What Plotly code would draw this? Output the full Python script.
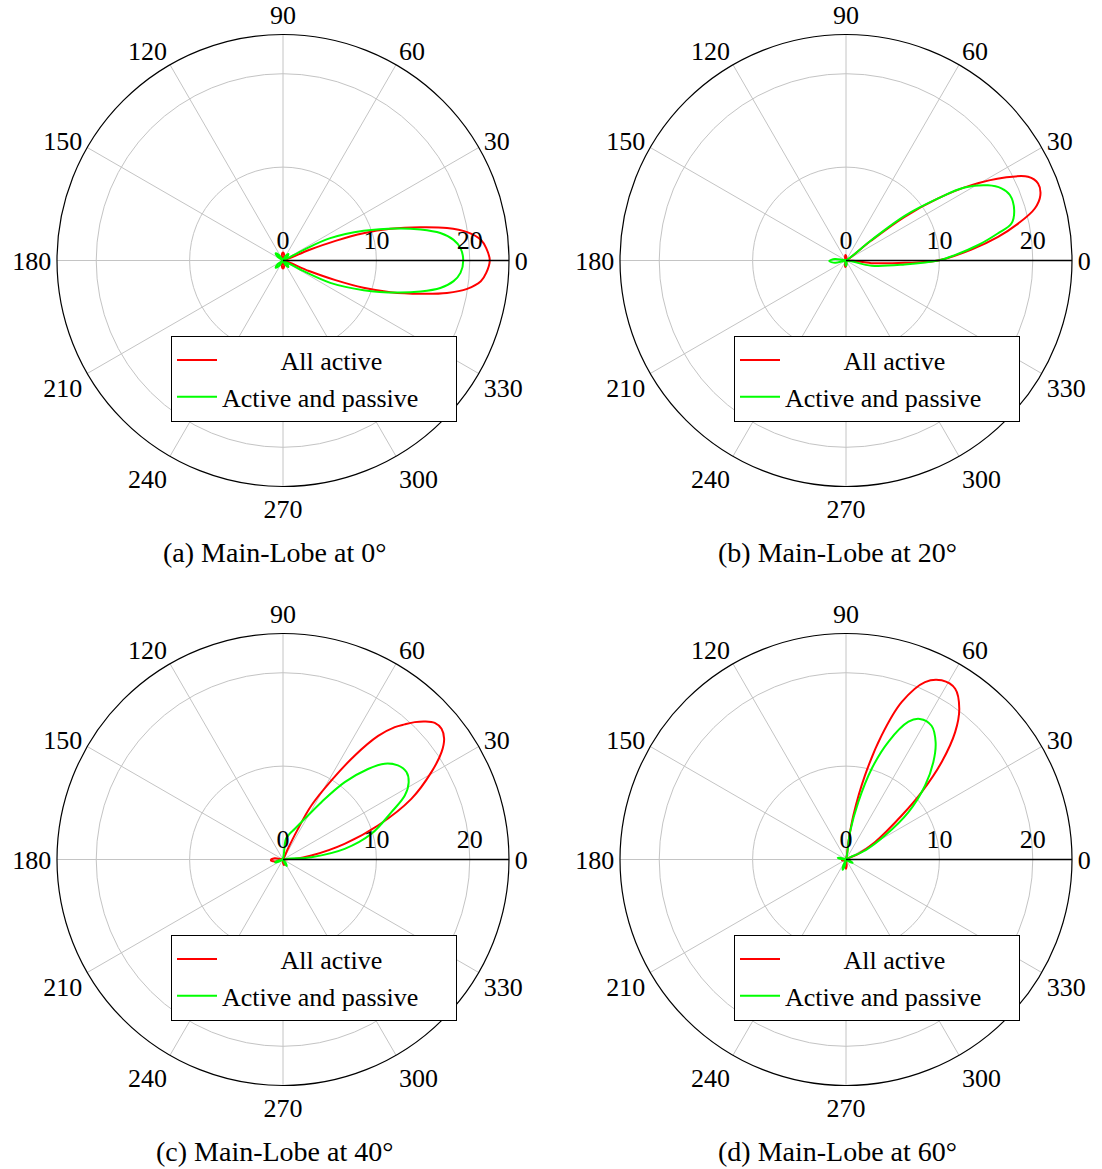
import plotly.graph_objects as go

# ---------------- data ----------------
SERIES_NAMES = ["All active", "Active and passive"]
CAPTIONS = ["(a) Main-Lobe at 0°", "(b) Main-Lobe at 20°",
            "(c) Main-Lobe at 40°", "(d) Main-Lobe at 60°"]
ANGLE_TICKS = [0, 30, 60, 90, 120, 150, 180, 210, 240, 270, 300, 330]
RADIAL_TICKS = [0, 10, 20]
RADIAL_MAX = 24.2

# Panel (a): main lobe at 0 deg
a_red_theta = [-23.5, -22, -20.5, -18.7, -16.4, -13.6, -11.2, -8.75, -6, -3.5, 0, 3.5, 6, 8.75, 11.2,
               13.6, 16.4, 18.7, 20.5, 22, 23.5, 65, 78, 90, 102, 115, 245, 258, 270, 282, 295, 336.5]
a_red_r = [0.15, 3, 6, 9.1, 12, 15.15, 17.9, 19.95, 21.3, 21.8, 22.14, 21.8, 21.3, 19.95, 17.9,
           15.15, 12, 9.1, 6, 3, 0.15, 0.15, 0.6, 0.85, 0.6, 0.15, 0.15, 0.6, 0.85, 0.6, 0.15, 0.15]
a_green_theta = [-29, -27.3, -25.3, -20.2, -15.7, -12.7, -9.9, -6.9, -4, 0, 4, 6.9, 9.9, 12.7, 15.7,
                 20.2, 25.3, 27.3, 29, 40, 50, 60, 72, 118, 125, 135, 145, 152, 208, 215, 225, 235,
                 242, 288, 300, 310, 320, 331]
a_green_r = [0.15, 2.5, 5.6, 9.2, 12.7, 15.1, 17.1, 18.4, 19.05, 19.3, 19.05, 18.4, 17.1, 15.1, 12.7,
             9.2, 5.6, 2.5, 0.15, 0.55, 0.9, 0.55, 0.15, 0.15, 0.7, 1.1, 0.7, 0.15, 0.15, 0.7, 1.1, 0.7,
             0.15, 0.15, 0.55, 0.9, 0.55, 0.15]

# Panel (b): main lobe at 20 deg
b_red_theta = [-8, -6, -2.3, 0, 5, 8.85, 12.1, 15.4, 18.55, 21.85, 24.7, 27.6, 31, 34, 36.7, 38.3,
               40.5, 75, 85, 95, 105, 115, 245, 255, 265, 275, 285, 352]
b_red_r = [0.15, 2.7, 6.3, 9.86, 13.48, 16.48, 18.85, 20.97, 21.95, 22.16, 21.46, 19.2, 15.67, 11.9,
           7.83, 3.4, 0.15, 0.15, 0.4, 0.6, 0.4, 0.15, 0.15, 0.45, 0.7, 0.45, 0.15, 0.15]
b_green_theta = [-13, -11.6, -3.9, 0, 2.8, 6.6, 10.1, 12.6, 16.7, 21.8, 24.9, 27.9, 31.6, 34, 37.3,
                 38.8, 41, 162, 172, 182, 192, 204, 250, 260, 270, 280, 290, 347]
b_green_r = [0.15, 2.8, 6.3, 9.86, 11.66, 14.2, 16.5, 18.15, 18.8, 18.9, 18.35, 17.2, 14.9, 11.9,
             7.9, 3.5, 0.15, 0.15, 1.2, 1.8, 1.2, 0.15, 0.15, 0.4, 0.6, 0.4, 0.15, 0.15]

# Panel (c): main lobe at 40 deg
c_red_theta = [-1, 3, 8, 14.3, 19.7, 25.3, 30.5, 34.1, 36.85, 39.5, 42.0, 44.25, 46.2, 48.0, 49.8,
               52.4, 55.4, 58.5, 62.3, 64, 65.5, 67, 160, 172, 183, 194, 206, 263, 272, 280, 288,
               297, 359]
c_red_r = [0.15, 1.25, 3.07, 6.8, 10.8, 15.2, 18.44, 20.5, 21.56, 22.0, 21.87, 21.19, 20.38, 19.47,
           18.55, 16.7, 13.5, 9.93, 6.5, 3.5, 1.2, 0.15, 0.15, 0.9, 1.3, 0.9, 0.15, 0.15, 0.4, 0.6,
           0.4, 0.15, 0.15]
c_green_theta = [-2, 4.7, 9.8, 16.2, 23.6, 27.7, 31.6, 35.3, 39.3, 43.3, 46.8, 51.4, 56.2, 61.9,
                 69.2, 76, 82, 88, 185, 193, 200, 207, 215, 285, 293, 300, 307, 315, 358]
c_green_r = [0.15, 3.05, 6.7, 9.86, 12.67, 14.73, 15.8, 16.2, 15.9, 14.96, 13.3, 10.6, 7.39, 4.94,
             3.5, 2.8, 2.2, 0.15, 0.15, 0.55, 0.9, 0.55, 0.15, 0.15, 0.5, 0.8, 0.5, 0.15, 0.15]

# Panel (d): main lobe at 60 deg
d_red_theta = [22, 24.7, 30.9, 38.3, 41.7, 45.5, 49.4, 53.1, 57.4, 61.9, 66, 70.5, 74, 77.3, 80.5,
               82.3, 84, 180, 188, 195, 202, 210, 255, 263, 270, 277, 285, 382]
d_red_r = [0.15, 1.45, 3.6, 7.6, 10.85, 14.6, 17.96, 20.2, 21.7, 21.75, 20.8, 17.9, 13.8, 9.2, 4.8,
           1.87, 0.15, 0.15, 0.3, 0.45, 0.3, 0.15, 0.15, 0.6, 1.0, 0.6, 0.15, 0.15]
d_green_theta = [22, 25.3, 31.6, 37.2, 43.1, 48.1, 52.6, 57.4, 62.3, 65.6, 70.2, 74.2, 77.9, 81.7,
                 84.5, 155, 162, 169, 176, 183, 237, 245, 252, 259, 267, 318, 326, 333, 340, 348, 382]
d_green_r = [0.15, 2.25, 4.9, 8.4, 11.6, 14.0, 15.8, 17.0, 17.0, 16.2, 13.4, 10.1, 6.3, 2.96, 0.15,
             0.15, 0.55, 0.9, 0.55, 0.15, 0.15, 0.7, 1.15, 0.7, 0.15, 0.15, 0.5, 0.8, 0.5, 0.15, 0.15]

PANELS = [
    (a_red_theta, a_red_r, a_green_theta, a_green_r),
    (b_red_theta, b_red_r, b_green_theta, b_green_r),
    (c_red_theta, c_red_r, c_green_theta, c_green_r),
    (d_red_theta, d_red_r, d_green_theta, d_green_r),
]

# ---------------- layout / styling ----------------
W, H = 1102, 1169
CENTERS = [(283, 260.5), (846, 260.5), (283, 859.5), (846, 859.5)]
RADIUS_PX = 226
COLORS = ["#ff0000", "#00ff00"]
FONT = "Liberation Serif"
GRID = "#c4c4c4"
NBSP = "\u00a0"
# legend labels: first entry centred in the box as in the reference
LEGEND_LABELS = [NBSP * 9 + SERIES_NAMES[0], SERIES_NAMES[1] + NBSP * 5]

fig = go.Figure()
layout = dict(width=W, height=H, autosize=False, margin=dict(l=0, r=0, t=0, b=0),
              paper_bgcolor="white", plot_bgcolor="white",
              font=dict(family=FONT, size=26, color="black"))
annotations = []

for i, (cx, cy) in enumerate(CENTERS):
    pname = "polar" if i == 0 else f"polar{i+1}"
    lname = "legend" if i == 0 else f"legend{i+1}"
    rt, rr, gt, gr = PANELS[i]
    for k, (th, r) in enumerate([(rt, rr), (gt, gr)]):
        fig.add_trace(go.Scatterpolar(
            theta=th, r=r, mode="lines", name=LEGEND_LABELS[k],
            line=dict(color=COLORS[k], width=2, shape="spline", smoothing=1.0),
            subplot=pname, legend=lname, showlegend=True))
    layout[pname] = dict(
        domain=dict(x=[(cx - RADIUS_PX) / W, (cx + RADIUS_PX) / W],
                    y=[1 - (cy + RADIUS_PX) / H, 1 - (cy - RADIUS_PX) / H]),
        bgcolor="white",
        radialaxis=dict(range=[0, RADIAL_MAX], tickvals=RADIAL_TICKS,
                        ticktext=[str(v) for v in RADIAL_TICKS],
                        angle=0, side="counterclockwise", showline=True,
                        linecolor="black", linewidth=1.3, gridcolor=GRID, gridwidth=1,
                        ticks="", tickfont=dict(family=FONT, size=26, color="black")),
        angularaxis=dict(tickvals=ANGLE_TICKS, ticktext=[str(v) for v in ANGLE_TICKS],
                         direction="counterclockwise", rotation=0, showline=True,
                         linecolor="black", linewidth=1.2, gridcolor=GRID, gridwidth=1,
                         ticks="",
                         tickfont=dict(family=FONT, size=26, color="black")),
    )
    layout[lname] = dict(
        x=(cx - 112) / W, y=1 - (cy + 75) / H, xanchor="left", yanchor="top",
        bgcolor="white", bordercolor="black", borderwidth=1,
        font=dict(family=FONT, size=26, color="black"),
        tracegroupgap=0, itemwidth=40)
    annotations.append(dict(
        text=CAPTIONS[i], x=(cx - 9) / W, y=1 - (cy + 292) / H, xref="paper", yref="paper",
        xanchor="center", yanchor="middle", showarrow=False,
        font=dict(family=FONT, size=28, color="black")))

layout["annotations"] = annotations
fig.update_layout(**layout)
fig.write_html("out.html")
